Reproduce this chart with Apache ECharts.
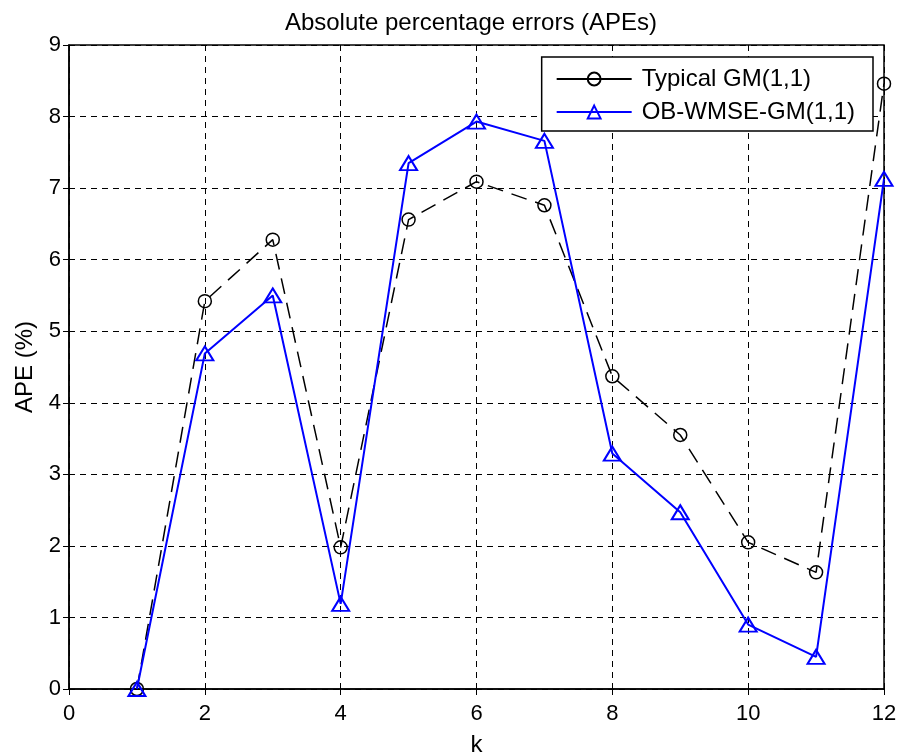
<!DOCTYPE html>
<html>
<head>
<meta charset="utf-8">
<script src="https://cdn.jsdelivr.net/npm/echarts@6/dist/echarts.min.js"></script>
<style>
  html, body { margin: 0; padding: 0; background: #fff; }
  #chart { width: 899px; height: 754px; }
</style>
</head>
<body>
<div id="chart"></div>
<script>
const kValues = [1, 2, 3, 4, 5, 6, 7, 8, 9, 10, 11, 12];
const typicalGM = [0, 5.42, 6.28, 1.98, 6.56, 7.09, 6.76, 4.37, 3.55, 2.05, 1.63, 8.46];
const obWmseGM = [0, 4.69, 5.5, 1.19, 7.35, 7.93, 7.66, 3.29, 2.47, 0.9, 0.45, 7.13];
const xTicks = [0, 2, 4, 6, 8, 10, 12];
const yTicks = [0, 1, 2, 3, 4, 5, 6, 7, 8, 9];

const fontFamily = 'Liberation Sans, Arial, Helvetica, sans-serif';
const chart = echarts.init(document.getElementById('chart'));

const pairs = (vals) => kValues.map((k, i) => [k, vals[i]]);

const gridLine = { show: true, lineStyle: { color: '#000', type: [6, 5], width: 1 } };
const tick = { show: true, inside: true, length: 6, lineStyle: { color: '#000', width: 1 } };

const option = {
    backgroundColor: '#fff',
    animation: false,
    title: {
        text: 'Absolute percentage errors (APEs)',
        left: 466,
        top: 6,
        textAlign: 'center',
        textStyle: { fontFamily, fontSize: 24, fontWeight: 'normal', color: '#000' }
    },
    grid: {
        left: 69, right: 15, top: 45, bottom: 65,
        outerBoundsMode: 'none',
        show: true, borderColor: '#000', borderWidth: 1.5
    },
    legend: {
        right: 26,
        top: 57,
        orient: 'vertical',
        itemWidth: 75,
        itemHeight: 16,
        itemGap: 9,
        padding: [10, 18, 7, 14],
        borderColor: '#000',
        borderWidth: 1.5,
        backgroundColor: '#fff',
        textStyle: { fontFamily, fontSize: 24, lineHeight: 24, color: '#000', padding: [0, 0, 0, 5] },
        data: [
            { name: 'Typical GM(1,1)', lineStyle: { type: 'solid' } },
            { name: 'OB-WMSE-GM(1,1)' }
        ]
    },
    xAxis: [{
        type: 'value',
        min: xTicks[0],
        max: xTicks[xTicks.length - 1],
        interval: 2,
        name: 'k',
        nameLocation: 'middle',
        nameGap: 44,
        nameTextStyle: { fontFamily, fontSize: 24, color: '#000' },
        axisLine: { show: true, lineStyle: { color: '#000', width: 1.5 } },
        axisTick: tick,
        axisLabel: { fontFamily, fontSize: 22, color: '#000', margin: 14 },
        splitLine: gridLine
    }, {
        type: 'value',
        position: 'top',
        min: xTicks[0],
        max: xTicks[xTicks.length - 1],
        interval: 2,
        axisLine: { show: false },
        axisTick: tick,
        axisLabel: { show: false },
        splitLine: { show: false }
    }],
    yAxis: [{
        type: 'value',
        min: yTicks[0],
        max: yTicks[yTicks.length - 1],
        interval: 1,
        name: 'APE (%)',
        nameLocation: 'middle',
        nameGap: 32,
        nameTextStyle: { fontFamily, fontSize: 24, color: '#000' },
        axisLine: { show: true, lineStyle: { color: '#000', width: 1.5 } },
        axisTick: tick,
        axisLabel: { fontFamily, fontSize: 22, color: '#000', margin: 8 },
        splitLine: gridLine
    }, {
        type: 'value',
        position: 'right',
        min: yTicks[0],
        max: yTicks[yTicks.length - 1],
        interval: 1,
        axisLine: { show: false },
        axisTick: tick,
        axisLabel: { show: false },
        splitLine: { show: false }
    }],
    series: [{
        name: 'Typical GM(1,1)',
        type: 'line',
        data: pairs(typicalGM),
        symbol: 'circle',
        symbolSize: 13,
        itemStyle: { color: 'rgba(255,255,255,0)', borderColor: '#000', borderWidth: 1.5 },
        lineStyle: { color: '#000', width: 1.5, type: [16, 9] },
        z: 3
    }, {
        name: 'OB-WMSE-GM(1,1)',
        type: 'line',
        data: pairs(obWmseGM),
        symbol: 'triangle',
        symbolSize: [17, 14],
        itemStyle: { color: 'rgba(255,255,255,0)', borderColor: '#0000ff', borderWidth: 2 },
        lineStyle: { color: '#0000ff', width: 2 },
        z: 4
    }]
};

chart.setOption(option);
</script>
</body>
</html>
